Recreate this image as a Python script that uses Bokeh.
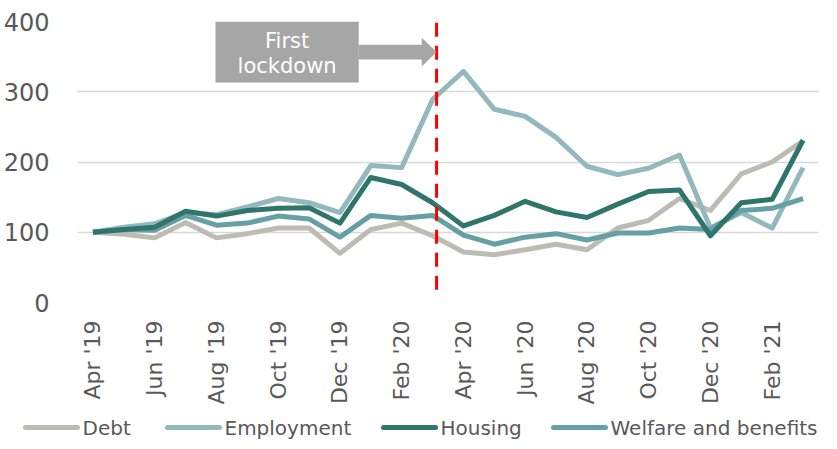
import math
from bokeh.plotting import figure
from bokeh.layouts import column
from bokeh.models import FixedTicker, Range1d
from bokeh.core.properties import value
from bokeh.embed import file_html
from bokeh.resources import INLINE

months = ["Apr '19", "May '19", "Jun '19", "Jul '19", "Aug '19", "Sep '19", "Oct '19", "Nov '19",
          "Dec '19", "Jan '20", "Feb '20", "Mar '20", "Apr '20", "May '20", "Jun '20", "Jul '20",
          "Aug '20", "Sep '20", "Oct '20", "Nov '20", "Dec '20", "Jan '21", "Feb '21", "Mar '21"]

debt = [100, 97, 92, 114, 92, 98, 106, 106, 70, 104, 113, 95,
        72, 68, 75, 83, 75, 106, 117, 148, 131, 183, 200, 230]
employment = [100, 107, 112, 128, 125, 136, 148, 142, 128, 195, 192, 289,
              329, 275, 265, 235, 194, 182, 191, 210, 106, 128, 106, 192]
housing = [100, 104, 107, 130, 123, 131, 134, 135, 113, 178, 168, 142,
           109, 124, 144, 129, 121, 140, 158, 160, 95, 142, 147, 231]
welfare = [100, 104, 103, 124, 110, 113, 123, 119, 93, 124, 120, 124,
           96, 83, 93, 98, 89, 99, 99, 106, 104, 131, 134, 148]

series_names = ["Debt", "Employment", "Housing", "Welfare and benefits"]
series_colors = ["#BDBCB3", "#93B9BE", "#2F756C", "#67A0A4"]

y_ticks = [0, 100, 200, 300, 400]
x_tick_idx = list(range(0, 24, 2))

lockdown_x = 11.13
lockdown_y = [18, 400]
annot_text = ["First", "lockdown"]

FONT = "DejaVu Sans"
LABEL_COLOR = "#595959"

xs = list(range(len(months)))

p = figure(width=821, height=407, output_backend="svg", toolbar_location=None,
           x_range=Range1d(-0.5, len(months) - 0.5), y_range=Range1d(0, 400),
           min_border_left=74, min_border_right=3, min_border_top=21, min_border_bottom=105)
p.outline_line_color = None

p.xgrid.grid_line_color = None
p.ygrid.grid_line_color = "#D9D9D9"
p.ygrid.grid_line_width = 1.5
p.yaxis.ticker = FixedTicker(ticks=y_ticks)
p.xaxis.ticker = FixedTicker(ticks=x_tick_idx)
p.xaxis.major_label_overrides = {i: months[i] for i in x_tick_idx}
p.xaxis.major_label_orientation = math.pi / 2

for ax in (p.xaxis, p.yaxis):
    ax.axis_line_color = None
    ax.major_tick_line_color = None
    ax.minor_tick_line_color = None
    ax.major_label_text_font = FONT
    ax.major_label_text_color = LABEL_COLOR
p.yaxis.major_label_text_font_size = "24px"
p.yaxis.major_label_standoff = 22
p.xaxis.major_label_text_font_size = "22px"
p.xaxis.major_label_standoff = 12

renderers = []
for name, data, col in zip(series_names, [debt, employment, housing, welfare], series_colors):
    r = p.line(xs, data, line_color=col, line_width=5, line_join="round")
    renderers.append(r)
p.renderers.remove(renderers[2])
p.renderers.append(renderers[2])

p.line([lockdown_x, lockdown_x], lockdown_y, line_color="#FF0000", line_width=3, line_dash="14 9")

box_l, box_r, box_b, box_t = 3.97, 8.61, 313, 400
p.quad(left=box_l, right=box_r, bottom=box_b, top=box_t, fill_color="#A6A6A6", line_color=None)
p.patch([box_r, 10.65, 10.65, lockdown_x, 10.65, 10.65, box_r],
        [346, 346, 336, 356.6, 377, 367, 367], fill_color="#A6A6A6", line_color=None)
cx = (box_l + box_r) / 2
p.text([cx, cx], [372, 336], text=annot_text, text_font=value(FONT), text_font_size="21px",
       text_color="white", text_align="center", text_baseline="middle")

# legend strip (pixel coordinates)
LEG_W, LEG_H = 821, 34
lf = figure(width=LEG_W, height=LEG_H, output_backend="svg", toolbar_location=None,
            x_range=Range1d(0, LEG_W), y_range=Range1d(0, LEG_H),
            x_axis_location=None, y_axis_location=None,
            min_border_left=0, min_border_right=0, min_border_top=0, min_border_bottom=0)
lf.grid.visible = False
lf.outline_line_color = None
if "frame_align" in lf.properties():
    lf.frame_align = False
    p.frame_align = False
leg_x0 = [25, 167, 383, 553]
leg_glyph = 52
leg_y = 14
lf.segment(x0=leg_x0, y0=[leg_y] * 4, x1=[x + leg_glyph for x in leg_x0], y1=[leg_y] * 4,
           line_color=series_colors, line_width=5, line_cap="round")
lf.text(x=[x + leg_glyph + 5 for x in leg_x0], y=[leg_y] * 4, text=series_names,
        text_font=value(FONT), text_font_size="20px", text_color=LABEL_COLOR,
        text_align="left", text_baseline="middle")

layout = column(p, lf, spacing=0)
open("out.html", "w").write(file_html(layout, INLINE))
